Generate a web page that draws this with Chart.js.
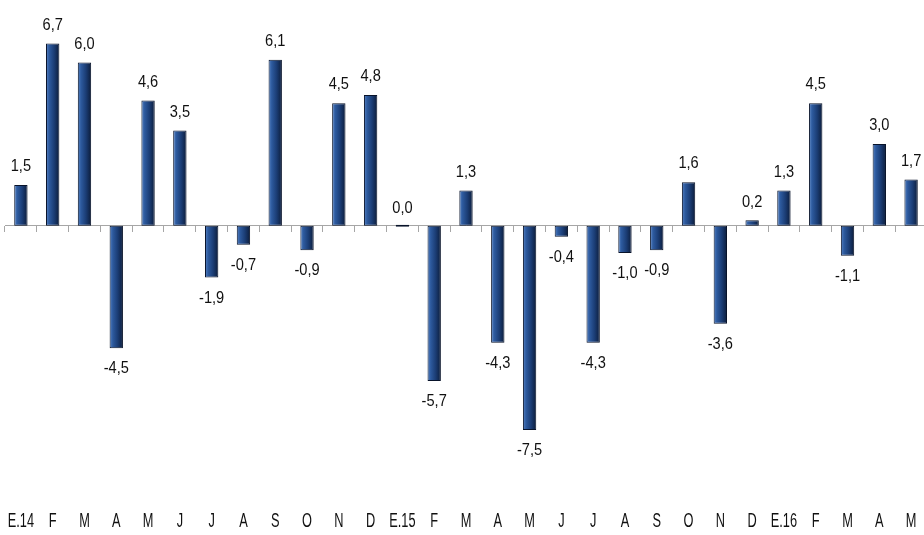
<!DOCTYPE html>
<html>
<head>
<meta charset="utf-8">
<script src="https://cdn.jsdelivr.net/npm/chart.js@4.4.1/dist/chart.umd.min.js"></script>
<style>
  html, body { margin: 0; padding: 0; background: #fff; overflow: hidden; }
  #wrap { position: relative; width: 932px; height: 535px; }
</style>
</head>
<body>
<div id="wrap"><canvas id="barChart"></canvas></div>
<script>
const MONTHS = ["E.14", "F", "M", "A", "M", "J", "J", "A", "S", "O", "N", "D",
  "E.15", "F", "M", "A", "M", "J", "J", "A", "S", "O", "N", "D",
  "E.16", "F", "M", "A", "M"];

const VARIATION = [1.5, 6.7, 6.0, -4.5, 4.6, 3.5, -1.9, -0.7, 6.1, -0.9, 4.5, 4.8,
  0.0, -5.7, 1.3, -4.3, -7.5, -0.4, -4.3, -1.0, -0.9, 1.6, -3.6, 0.2,
  1.3, 4.5, -1.1, 3.0, 1.7];

const FONT_FAMILY = '"Liberation Sans", Arial, sans-serif';

function fmtComma(v) {
  return v.toFixed(1).replace(".", ",");
}

// texto "estrecho": se escala en horizontal (no hay Arial Narrow)
function narrowText(ctx, txt, x, y, sx) {
  ctx.save();
  ctx.translate(x, y);
  ctx.scale(sx, 1);
  ctx.fillText(txt, 0, 0);
  ctx.restore();
}

// gradiente horizontal por barra (claro a la izquierda, oscuro a la derecha)
function barFill(ctx) {
  const chart = ctx.chart;
  const xs = chart.scales.x;
  if (!chart.chartArea || !xs) return "#1d3f78";
  const cx = xs.getPixelForValue(ctx.dataIndex);
  const half = 7;
  const g = chart.ctx.createLinearGradient(cx - half, 0, cx + half, 0);
  g.addColorStop(0, "#5b87c8");
  g.addColorStop(0.25, "#2d5a9e");
  g.addColorStop(0.6, "#1b3d75");
  g.addColorStop(1, "#0b1a36");
  return g;
}

// etiquetas de valor y de meses
const textLabels = {
  id: "textLabels",
  afterDatasetsDraw(chart) {
    const { ctx } = chart;
    const meta = chart.getDatasetMeta(0);
    const xs = chart.scales.x;
    ctx.save();
    ctx.fillStyle = "#111";
    ctx.textAlign = "center";

    ctx.font = "17px " + FONT_FAMILY;
    meta.data.forEach((bar, i) => {
      const v = VARIATION[i];
      const txt = fmtComma(v);
      if (v >= 0) {
        ctx.textBaseline = "bottom";
        narrowText(ctx, txt, bar.x, bar.y - 10, 0.86);
      } else {
        ctx.textBaseline = "top";
        narrowText(ctx, txt, bar.x, bar.y + 12, 0.86);
      }
    });

    ctx.font = "20px " + FONT_FAMILY;
    ctx.textBaseline = "middle";
    MONTHS.forEach((m, i) => {
      narrowText(ctx, m, xs.getPixelForValue(i), 521, 0.64);
    });
    ctx.restore();
  },
};

function buildChart() {
  const ctx = document.getElementById("barChart").getContext("2d");
  return new Chart(ctx, {
    type: "bar",
    data: {
      labels: MONTHS,
      datasets: [{
        data: VARIATION,
        backgroundColor: barFill,
        borderColor: "#08132a",
        borderWidth: 1,
        borderSkipped: false,
        minBarLength: 2,
        barPercentage: 0.42,
        categoryPercentage: 1,
      }],
    },
    options: {
      responsive: true,
      maintainAspectRatio: false,
      animation: false,
      layout: { padding: { left: 5, right: 5, top: 8, bottom: 37 } },
      plugins: { legend: { display: false }, tooltip: { enabled: false } },
      scales: {
        x: {
          type: "category",
          display: false,
        },
        // eje en cero con marcas entre categorías
        x0: {
          type: "category",
          position: { y: 0 },
          offset: true,
          grid: {
            offset: true,
            drawOnChartArea: false,
            drawTicks: true,
            tickLength: 6,
            color: "#a6a6a6",
          },
          border: { display: true, color: "#a6a6a6", width: 1 },
          ticks: { callback: () => "", padding: 0 },
        },
        y: {
          display: false,
          min: -10,
          max: 8,
        },
      },
    },
    plugins: [textLabels],
  });
}

window.__barChart = buildChart();
</script>
</body>
</html>
